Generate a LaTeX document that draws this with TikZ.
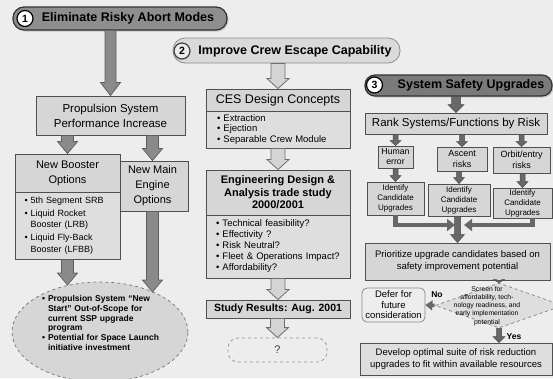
\documentclass[tikz,border=0pt]{standalone}
\usepackage{fontspec}
\setmainfont{Liberation Sans}
\usetikzlibrary{arrows.meta,shapes.geometric,calc,shadows}
\definecolor{bg}{HTML}{EDEDED}
\definecolor{boxfill}{HTML}{D6D6D6}
\definecolor{boxfilllight}{HTML}{DEDEDE}
\definecolor{boxline}{HTML}{505050}
\definecolor{tonefill}{HTML}{8E8E8E}
\definecolor{tthreefill}{HTML}{7A7A7A}
\definecolor{ttwofill}{HTML}{DADADA}
\definecolor{arrowone}{HTML}{8A8A8A}
\definecolor{arrowoneline}{HTML}{5E5E5E}
\definecolor{arrowtwo}{HTML}{D4D4D4}
\definecolor{arrowtwoline}{HTML}{6E6E6E}
\definecolor{arrowthree}{HTML}{686868}
\definecolor{arrowthreeline}{HTML}{4A4A4A}
\newcommand\vfat[6]{\path[#1] let \p1=(#2), \p2=(#3) in
  ({\x2-#4pt},\y1) -- ({\x2-#4pt},{\y2+#6pt}) -- ({\x2-#5pt},{\y2+#6pt}) -- (\x2,\y2)
  -- ({\x2+#5pt},{\y2+#6pt}) -- ({\x2+#4pt},{\y2+#6pt}) -- ({\x2+#4pt},\y1) -- cycle;}
\begin{document}
\begin{tikzpicture}[x=1pt,y=-1pt,
  box/.style={draw=boxline, line width=0.9pt, fill=boxfill, inner sep=0pt, align=center, text=black},
  boxb/.style={box, fill=boxfilllight},
  pillone/.style={draw=black!80, line width=1.2pt, fill=tonefill, rounded corners=11pt,
     drop shadow={opacity=0.35, shadow xshift=1.5pt, shadow yshift=-1.5pt}},
  pillthree/.style={pillone, fill=tthreefill},
  pilltwo/.style={draw=black!45, line width=0.8pt, fill=ttwofill, rounded corners=12pt},
  numcirc/.style={circle, draw=black, line width=1.2pt, fill=white, inner sep=0pt, minimum size=16pt,
     font=\bfseries\fontsize{10.5}{12}\selectfont},
  titlefont/.style={font=\bfseries\fontsize{12.5}{14}\selectfont, inner sep=0pt},
  fsA/.style={font=\fontsize{11.5}{15}\selectfont},
  fsB/.style={font=\fontsize{11}{15}\selectfont},
  fsC/.style={font=\fontsize{9}{11.5}\selectfont},
  fsBul/.style={font=\fontsize{9.5}{10.5}\selectfont},
  fsSm/.style={font=\fontsize{9}{10.5}\selectfont},
  fsId/.style={font=\fontsize{8}{10}\selectfont},
  fatone/.style={fill=arrowone, draw=arrowoneline, line width=0.7pt},
  fattwo/.style={fill=arrowtwo, draw=arrowtwoline, line width=0.8pt},
  fatthree/.style={fill=arrowthree, draw=arrowthreeline, line width=0.5pt},
  merge/.style={draw=arrowthree, line width=4.5pt, -{Triangle[width=12pt,length=8pt]}},
  smallleft/.style={draw=arrowthree, line width=3.5pt, -{Triangle[width=10pt,length=7pt]}},
  lab/.style={font=\bfseries\fontsize{8.5}{10}\selectfont, inner sep=0pt}
]
\useasboundingbox (0,0) rectangle (553,378);
\fill[bg] (0,0) rectangle (553,378);

% ---------------- Section 1 ----------------
\node[pillone, minimum width=214pt, minimum height=23pt] (t1) at (120,18.5) {};
\node[numcirc] (c1) at (25,18.5) {1};
\node[titlefont] (t1txt) at (128,18.5) {Eliminate Risky Abort Modes};

\node[box, minimum width=149pt, minimum height=39pt, fsA] (prop) at (110.5,115.5) {Propulsion System\\Performance Increase};
\node[box, minimum width=71pt, minimum height=50pt, fsB] (me) at (152.5,186) {New Main\\Engine\\Options};
\node[box, minimum width=105pt, minimum height=38pt, fsB] (bh) at (67.5,173) {New Booster\\Options};
\node[boxb, minimum width=105pt, minimum height=67pt, text width=86pt, align=left, fsC] (bb) at (67.5,225.5)
  {• 5th Segment SRB\\[1.5pt]• Liquid Rocket\\\phantom{• }Booster (LRB)\\[1.5pt]• Liquid Fly-Back\\\phantom{• }Booster (LFBB)};

\node[ellipse, draw=black!55, dashed, line width=0.7pt, fill=boxfill, minimum width=176pt, minimum height=100pt, inner sep=0pt] (ell) at (100,332) {};
\node[font=\bfseries\fontsize{8.5}{9.7}\selectfont, text width=130pt, align=left, anchor=west, inner sep=0pt] (elltxt) at (42,323)
  {• Propulsion System “New\\\phantom{• }Start” Out-of-Scope for\\\phantom{• }current SSP upgrade\\\phantom{• }program\\• Potential for Space Launch\\\phantom{• }initiative investment};
\coordinate (ellL) at (67.5,285);
\coordinate (ellR) at (152.5,292);

\vfat{fatone}{prop.north |- t1.south}{prop.north}{5.5}{10}{13}
\vfat{fatone}{bh.north |- prop.south}{bh.north}{6}{10}{12}
\vfat{fatone}{me.north |- prop.south}{me.north}{6}{10}{12}
\vfat{fatone}{bb.south}{ellL}{6}{10}{12}
\vfat{fatone}{me.south}{ellR}{6}{10}{12}

% ---------------- Section 2 ----------------
\node[pilltwo, minimum width=227pt, minimum height=25pt] (t2) at (286.5,50.5) {};
\node[numcirc, draw=black!75, fill=black!8] (c2) at (182,51) {2};
\node[titlefont] (t2txt) at (295,51) {Improve Crew Escape Capability};

\node[box, minimum width=144pt, minimum height=22pt, font=\fontsize{12.5}{14}\selectfont] (cesh) at (278,100) {CES Design Concepts};
\node[boxb, minimum width=144pt, minimum height=37pt, text width=122pt, align=left, fsBul] (cesb) at (278,129.5)
  {• Extraction\\• Ejection\\• Separable Crew Module};
\node[box, minimum width=144pt, minimum height=45pt, font=\bfseries\fontsize{11}{12.5}\selectfont] (engh) at (278,192.5)
  {Engineering Design \&\\Analysis trade study\\2000/2001};
\node[boxb, minimum width=144pt, minimum height=63pt, text width=124pt, align=left, font=\fontsize{9.5}{11}\selectfont] (engb) at (278,246.5)
  {• Technical feasibility?\\• Effectivity ?\\• Risk Neutral?\\• Fleet \& Operations Impact?\\• Affordability?};
\node[box, minimum width=144pt, minimum height=18pt, font=\bfseries\fontsize{10.5}{12}\selectfont] (st) at (278,309) {Study Results: Aug. 2001};
\node[draw=black!40, dashed, line width=0.8pt, rounded corners=10pt, minimum width=99pt, minimum height=24pt,
  inner sep=0pt, font=\fontsize{11}{13}\selectfont, text=black!75] (q) at (277.5,350) {?};

\vfat{fattwo}{cesh.north |- t2.south}{cesh.north}{7}{11}{10}
\vfat{fattwo}{cesb.south}{engh.north}{7}{11}{10}
\vfat{fattwo}{engb.south}{st.north}{7}{11}{10}
\vfat{fattwo}{st.south}{q.north}{7}{11}{10}

% ---------------- Section 3 ----------------
\node[pillthree, minimum width=187pt, minimum height=21pt, rounded corners=10pt] (t3) at (458.5,85.5) {};
\node[numcirc] (c3) at (374.5,85) {3};
\node[titlefont] (t3txt) at (471,85.5) {System Safety Upgrades};

\node[box, minimum width=182pt, minimum height=21pt, font=\fontsize{11.5}{13}\selectfont] (rank) at (456,123.5) {Rank Systems/Functions by Risk};
\node[box, minimum width=35pt, minimum height=22pt, font=\fontsize{8.7}{10}\selectfont] (human) at (395.5,157) {Human\\error};
\node[box, minimum width=50pt, minimum height=24pt, fsSm] (ascent) at (462,159) {Ascent\\risks};
\node[box, minimum width=57pt, minimum height=26pt, fsSm] (orbit) at (521.5,160) {Orbit/entry\\risks};
\node[box, minimum width=57pt, minimum height=33pt, fsId] (id1) at (395.5,198.5) {Identify\\Candidate\\Upgrades};
\node[box, minimum width=62pt, minimum height=32pt, fsId] (id2) at (459,200) {Identify\\Candidate\\Upgrades};
\node[box, minimum width=59pt, minimum height=30pt, fsId] (id3) at (522.5,203) {Identify\\Candidate\\Upgrades};
\node[box, minimum width=185pt, minimum height=37pt, font=\fontsize{9.5}{12}\selectfont] (prio) at (457.5,261.5)
  {Prioritize upgrade candidates based on\\safety improvement potential};
\node[diamond, draw=black!50, dashed, line width=0.7pt, fill=boxfilllight, minimum width=128pt, minimum height=45pt, inner sep=0pt] (dia) at (499,305.5) {};
\node[font=\fontsize{6.8}{8.2}\selectfont, align=center, inner sep=0pt] (diatxt) at (487,306)
  {Screen for\\affordability, tech-\\nology readiness, and\\early implementation\\potential};
\node[draw=black!45, line width=0.8pt, fill=black!7, rounded corners=5pt, minimum width=63pt, minimum height=34pt,
  inner sep=0pt, align=center, font=\fontsize{9.5}{10.5}\selectfont] (defer) at (393.5,305) {Defer for\\future\\consideration};
\node[box, fill=boxfilllight, minimum width=192pt, minimum height=32pt, font=\fontsize{9.5}{11.5}\selectfont] (dev) at (456,359)
  {Develop optimal suite of risk reduction\\upgrades to fit within available resources};
\node[lab] (nolab) at (437,295) {No};
\node[lab] (yeslab) at (514,337) {Yes};

\coordinate (mL) at (455,225);
\coordinate (mR) at (464,225);

\vfat{fatthree}{rank.north |- t3.south}{rank.north}{4.5}{8}{8}
\vfat{fatthree}{human.north |- rank.south}{human.north}{2.5}{5.5}{5}
\vfat{fatthree}{ascent.north |- rank.south}{ascent.north}{2.5}{5.5}{5}
\vfat{fatthree}{orbit.north |- rank.south}{orbit.north}{2.5}{5.5}{5}
\vfat{fatthree}{human.south}{id1.north}{2.5}{5.5}{6}
\vfat{fatthree}{id2.north |- ascent.south}{id2.north}{2.5}{5.5}{6}
\vfat{fatthree}{orbit.south}{id3.north}{2.5}{5.5}{6}
\draw[merge] (id1.south) |- (mL);
\draw[merge] ([xshift=10pt]id3.south) |- (mR);
\vfat{fatthree}{id2.south}{prio.north}{3}{7}{8}
\vfat{fatthree}{dia.north |- prio.south}{dia.north}{2.5}{5.5}{3}
\draw[smallleft] (dia.west) -- (defer.east);
\vfat{fatthree}{dia.south}{dia.south |- dev.north}{2.5}{6}{6}
\end{tikzpicture}
\end{document}
